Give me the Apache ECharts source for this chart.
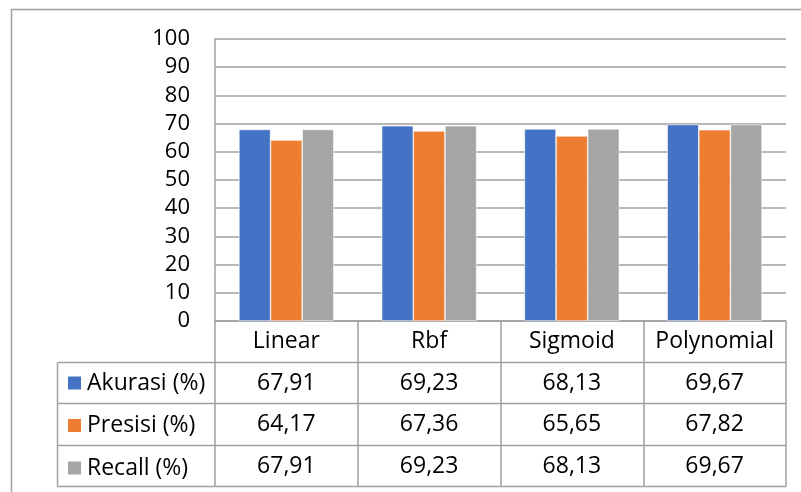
<!DOCTYPE html>
<html>
<head>
<meta charset="utf-8">
<script src="https://cdn.jsdelivr.net/npm/echarts@6/dist/echarts.min.js"></script>
<style>html,body{margin:0;padding:0;background:#fff}#c{width:801px;height:492px}</style>
</head>
<body>
<div id="c"></div>
<script>
const categories = ['Linear', 'Rbf', 'Sigmoid', 'Polynomial'];
const akurasi = [67.91, 69.23, 68.13, 69.67];
const presisi = [64.17, 67.36, 65.65, 67.82];
const recall = [67.91, 69.23, 68.13, 69.67];
const seriesNames = ['Akurasi (%)', 'Presisi (%)', 'Recall (%)'];
const yTicks = [0, 10, 20, 30, 40, 50, 60, 70, 80, 90, 100];

const FONT = '"Open Sans", sans-serif';
const FS = 22;
const TFS = 23;
const LINE = '#a0a0a0';
const fmt = v => v.toFixed(2).replace('.', ',');

const chart = echarts.init(document.getElementById('c'));

function tableAxis(values, offset) {
  return {
    type: 'category', gridIndex: 0, position: 'bottom', offset: offset,
    data: values.map(fmt),
    axisLine: { show: false }, axisTick: { show: false },
    axisLabel: { margin: 20.5, verticalAlign: 'middle', fontSize: TFS, fontFamily: FONT, color: '#000', interval: 0 }
  };
}

const hLines = [362.5, 403.5, 445.5, 486.5].map(y => ({
  type: 'line', shape: { x1: 57.5, y1: y, x2: 786.5, y2: y }, style: { stroke: LINE, lineWidth: 1.5 }, silent: true
}));

const option = {
  animation: false,
  backgroundColor: '#fff',
  textStyle: { fontFamily: FONT },
  grid: { left: 215, right: 15, top: 39, bottom: 171, containLabel: false },
  legend: {
    orient: 'vertical', left: 66, top: 371.5, padding: 0, itemGap: 19.5,
    itemWidth: 15, itemHeight: 15, icon: 'rect', selectedMode: false,
    textStyle: { fontSize: TFS, fontFamily: FONT, color: '#000', lineHeight: 22 },
    data: seriesNames
  },
  xAxis: [
    {
      type: 'category', data: categories, position: 'bottom',
      axisLine: { show: true, lineStyle: { color: LINE, width: 1.5 } },
      axisTick: { show: true, length: 165, lineStyle: { color: LINE, width: 1.5 } },
      axisLabel: { margin: 20.5, verticalAlign: 'middle', fontSize: TFS, fontFamily: FONT, color: '#000', interval: 0 }
    },
    tableAxis(akurasi, 41.5),
    tableAxis(presisi, 83),
    tableAxis(recall, 124.5)
  ],
  yAxis: {
    type: 'value', min: 0, max: 100, interval: 10,
    axisLine: { show: true, lineStyle: { color: LINE, width: 1.5 } },
    axisTick: { show: false },
    splitLine: { show: true, lineStyle: { color: LINE, width: 1.5 } },
    axisLabel: { margin: 25, fontSize: FS, fontFamily: FONT, color: '#000',
      formatter: v => (yTicks.indexOf(v) >= 0 ? String(v) : '') }
  },
  series: [
    { name: seriesNames[0], type: 'bar', data: akurasi, barGap: '0%', barCategoryGap: '33.5%',
      itemStyle: { color: '#4472C4', borderColor: '#ffffff', borderWidth: 0.6 } },
    { name: seriesNames[1], type: 'bar', data: presisi, barGap: '0%', barCategoryGap: '33.5%',
      itemStyle: { color: '#ED7D31', borderColor: '#ffffff', borderWidth: 0.6 } },
    { name: seriesNames[2], type: 'bar', data: recall, barGap: '0%', barCategoryGap: '33.5%',
      itemStyle: { color: '#A5A5A5', borderColor: '#ffffff', borderWidth: 0.6 } }
  ],
  graphic: [
    { type: 'rect', shape: { x: 11.5, y: 9.5, width: 820, height: 520 }, style: { fill: 'none', stroke: LINE, lineWidth: 1.5 }, silent: true },
    { type: 'line', shape: { x1: 57.5, y1: 362.5, x2: 57.5, y2: 486.5 }, style: { stroke: LINE, lineWidth: 1.5 }, silent: true }
  ].concat(hLines)
};
chart.setOption(option);
</script>
</body>
</html>
